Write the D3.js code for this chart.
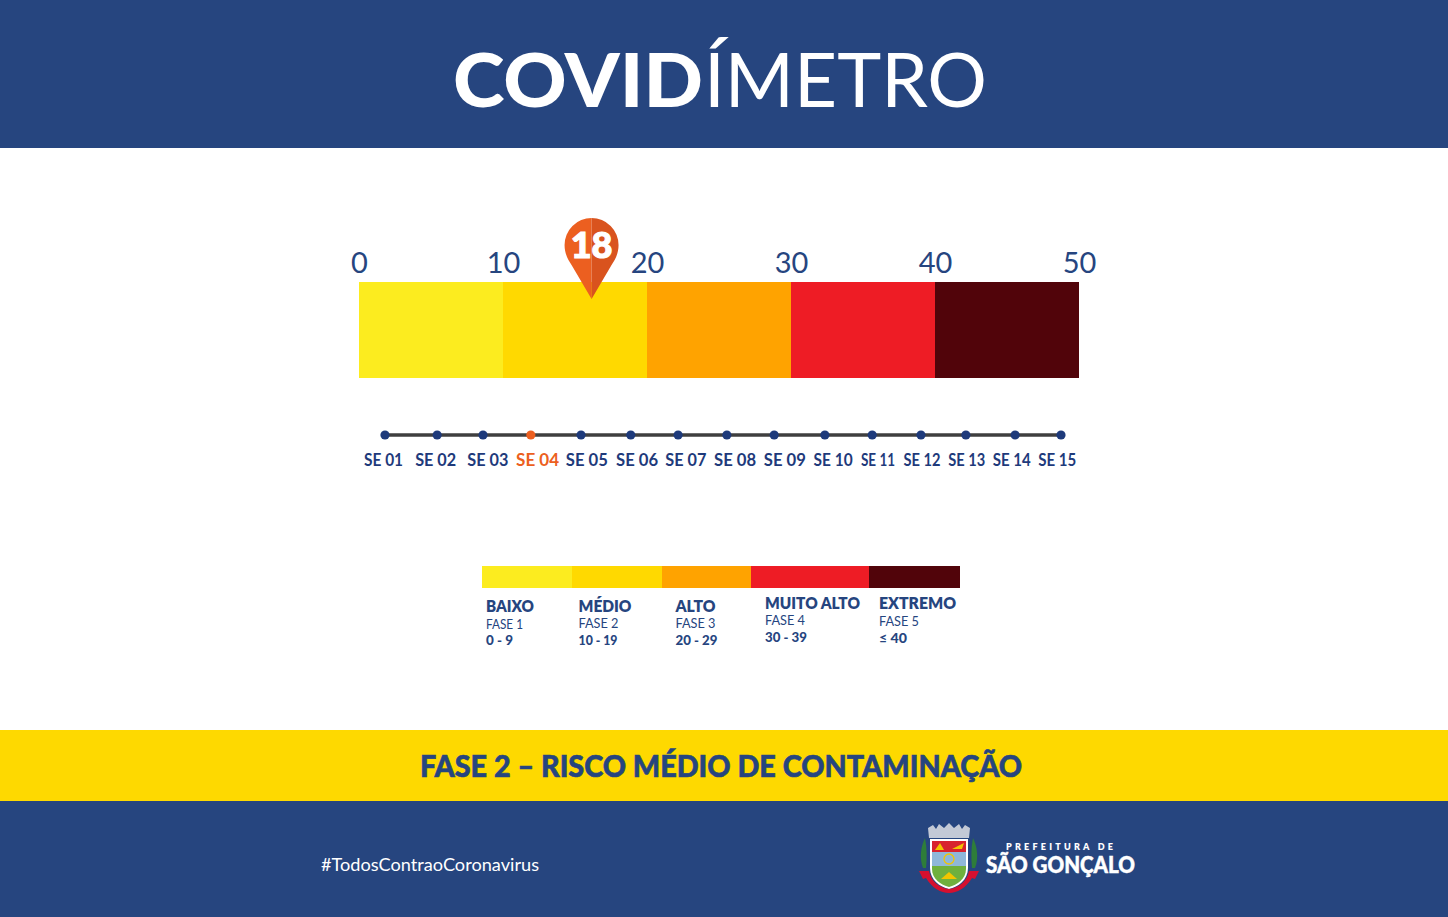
<!DOCTYPE html>
<html lang="pt-BR"><head><meta charset="utf-8">
<style>html,body{margin:0;padding:0;background:#fff}svg{display:block}text{font-family:Lato,"Open Sans",sans-serif}</style>
<script src="https://cdn.jsdelivr.net/npm/d3@7"></script></head><body>
<svg id="c" width="1448" height="917"></svg>
<script>
// ---- data ----
const gaugeThresholds=[0,10,20,30,40,50];
const gaugeColors=["#fcec1f","#ffd900","#ffa300","#ee1c25","#51040a"];
const currentValue=18;
const pinPositionOnScale=16.15;
const weeks=["SE 01","SE 02","SE 03","SE 04","SE 05","SE 06","SE 07","SE 08","SE 09","SE 10","SE 11","SE 12","SE 13","SE 14","SE 15"];
const weekDots=[1,2.08,3.03,4.02,5.06,6.09,7.07,8.08,9.06,10.11,11.09,12.10,13.03,14.05,15];
const weekLabels=[0.97,2.05,3.13,4.16,5.18,6.22,7.23,8.25,9.28,10.28,11.21,12.12,13.05,13.98,14.92];
const currentWeek="SE 04";
const phaseNames=["BAIXO","MÉDIO","ALTO","MUITO ALTO","EXTREMO"];
const phaseSubs=["FASE 1","FASE 2","FASE 3","FASE 4","FASE 5"];
const phaseRanges=["0 - 9","10 - 19","20 - 29","30 - 39","≤ 40"];
const legendSpans=[0,90,180,269,387,478];
// ---- layout ----
const navy="#26457f", dot="#1e3a7b", orange="#ec5f20";
const weekLabelWidths=[39,41,41,43,42,42,41,42,42,39,34,37,37,38,38];
const nameW=[48,53,40,95,77], subW=[37,40,40,40,40], rangeW=[27,39,42,42,28];
const svg=d3.select("#c");
function T(x,y,s,size,weight,fill,anchor,len){
  const t=svg.append("text").attr("x",x).attr("y",y).text(s).attr("font-size",size).attr("font-weight",weight).attr("fill",fill).attr("text-anchor",anchor||"start");
  if(len)t.attr("textLength",len).attr("lengthAdjust","spacingAndGlyphs");
  return t;
}
svg.append("rect").attr("width",1448).attr("height",917).attr("fill","#fff");
svg.append("rect").attr("width",1448).attr("height",148).attr("fill",navy);
svg.append("rect").attr("y",730).attr("width",1448).attr("height",71).attr("fill","#fed900");
svg.append("rect").attr("y",801).attr("width",1448).attr("height",116).attr("fill",navy);
// title
T(453,107,"COVID",75,900,"#fff","start",250);
T(704,107,"ÍMETRO",75,400,"#fff","start",283);
// gauge
const x=d3.scaleLinear().domain([0,50]).range([359,1079]);
svg.selectAll(".band").data(d3.pairs(gaugeThresholds)).join("rect").attr("class","band")
 .attr("x",d=>x(d[0])).attr("width",d=>x(d[1])-x(d[0])).attr("y",282).attr("height",96)
 .attr("fill",(d,i)=>gaugeColors[i]);
const ax=svg.append("g").attr("transform","translate(0,273)")
 .call(d3.axisTop(x).tickValues(gaugeThresholds).tickSize(0).tickPadding(0).tickFormat(d3.format("d")));
ax.select(".domain").remove();
ax.selectAll("text").attr("font-size",29).attr("font-weight",400).attr("fill",navy).attr("style","font-family:Lato");
// pin
const px=x(pinPositionOnScale), pg=svg.append("g").attr("transform",`translate(${px},245)`);
pg.append("path").attr("d","M0,-27A27,27 0 0 0 -27,0C-27,8 -24,14 -20,20L0,54Z").attr("fill",orange);
pg.append("path").attr("d","M0,-27A27,27 0 0 1 27,0C27,8 24,14 20,20L0,54Z").attr("fill","#d9531e");
T(px,258,String(currentValue),36,900,"#fff","middle").attr("stroke","#fff").attr("stroke-width",1.2);
// timeline
const w=d3.scaleLinear().domain([1,15]).range([385,1061]);
svg.append("line").attr("x1",w(1)).attr("x2",w(15)).attr("y1",435).attr("y2",435).attr("stroke","#3f3f3f").attr("stroke-width",3.6);
svg.selectAll(".wk").data(weeks).join("circle").attr("class","wk")
 .attr("cx",(d,i)=>w(weekDots[i])).attr("cy",435).attr("r",4.6).attr("fill",d=>d===currentWeek?orange:dot);
svg.selectAll(".wl").data(weeks).join("text").attr("class","wl")
 .attr("x",(d,i)=>w(weekLabels[i])).attr("y",466).attr("text-anchor","middle")
 .attr("font-size",16.5).attr("font-weight",700).attr("fill",d=>d===currentWeek?orange:dot).text(d=>d)
 .attr("textLength",(d,i)=>weekLabelWidths[i]).attr("lengthAdjust","spacingAndGlyphs");
// legend
const l=d3.scaleLinear().domain([0,478]).range([482,960]);
svg.selectAll(".lg").data(d3.pairs(legendSpans)).join("rect").attr("class","lg")
 .attr("x",d=>l(d[0])).attr("width",d=>l(d[1])-l(d[0])).attr("y",566).attr("height",22).attr("fill",(d,i)=>gaugeColors[i]);
const lx=[486,578.5,675.5,765,879], ly=[[612,629,645],[612,628,645],[612,628,645],[609,625,642],[609,626,643]];
phaseNames.forEach((n,i)=>{
  T(lx[i],ly[i][0],n,17,800,navy,"start",nameW[i]);
  T(lx[i],ly[i][1],phaseSubs[i],14,400,navy,"start",subW[i]);
  T(lx[i],ly[i][2],phaseRanges[i],13,900,navy,"start",rangeW[i]);
});
// banner + footer
T(420,777,"FASE 2 – RISCO MÉDIO DE CONTAMINAÇÃO",30,900,navy,"start",602).attr("stroke",navy).attr("stroke-width",.6);
T(321,871,"#TodosContraoCoronavirus",18,400,"#fff","start",218);
T(1006,850,"PREFEITURA DE",9,800,"#fff").attr("textLength",107).attr("lengthAdjust","spacing");
T(986,873,"SÃO GONÇALO",23,900,"#fff","start",149).attr("stroke","#fff").attr("stroke-width",.5);
// crest
const cr=svg.append("g").attr("transform","translate(949,858)");
cr.append("path").attr("d","M-20,-20L-21,-30L-16,-33L-13,-29L-10,-34L-5,-30L0,-35L5,-30L10,-34L13,-29L16,-33L21,-30L20,-20Z").attr("fill","#c3c9d6");
cr.append("path").attr("d","M-19,-19H19V10C19,22 9,29 0,31C-9,29 -19,22 -19,10Z").attr("fill","#fff");
cr.append("path").attr("d","M-17,-17H17V-6H-17Z").attr("fill","#d8232e");
cr.append("path").attr("d","M-17,-6H17V8H-17Z").attr("fill","#8fb7d9");
cr.append("path").attr("d","M-17,8H17V11C17,21 8,27 0,29C-8,27 -17,21 -17,11Z").attr("fill","#6fb03e");
cr.append("circle").attr("cx",0).attr("cy",1).attr("r",5).attr("fill","none").attr("stroke","#f2c500").attr("stroke-width",1.3);
cr.append("path").attr("d","M-9,-15L-5,-8H-14Z").attr("fill","#f2c500");
cr.append("path").attr("d","M3,-9L15,-15L13,-9Z").attr("fill","#f2c500");
cr.append("path").attr("d","M-8,21L0,14L8,21Z").attr("fill","#f2c500");
cr.append("path").attr("d","M-30,13L-20,13C-18,24 -9,30 0,31C9,30 18,24 20,13L30,13L26,21L23,20C17,30 8,35 0,35C-8,35 -17,30 -23,20L-26,21Z").attr("fill","#d5102f");
cr.append("path").attr("d","M-26,10C-30,0 -28,-12 -24,-20C-22,-10 -22,0 -23,10Z").attr("fill","#2e7d3a");
cr.append("path").attr("d","M26,10C30,0 28,-12 24,-20C22,-10 22,0 23,10Z").attr("fill","#2e7d3a");
</script></body></html>
